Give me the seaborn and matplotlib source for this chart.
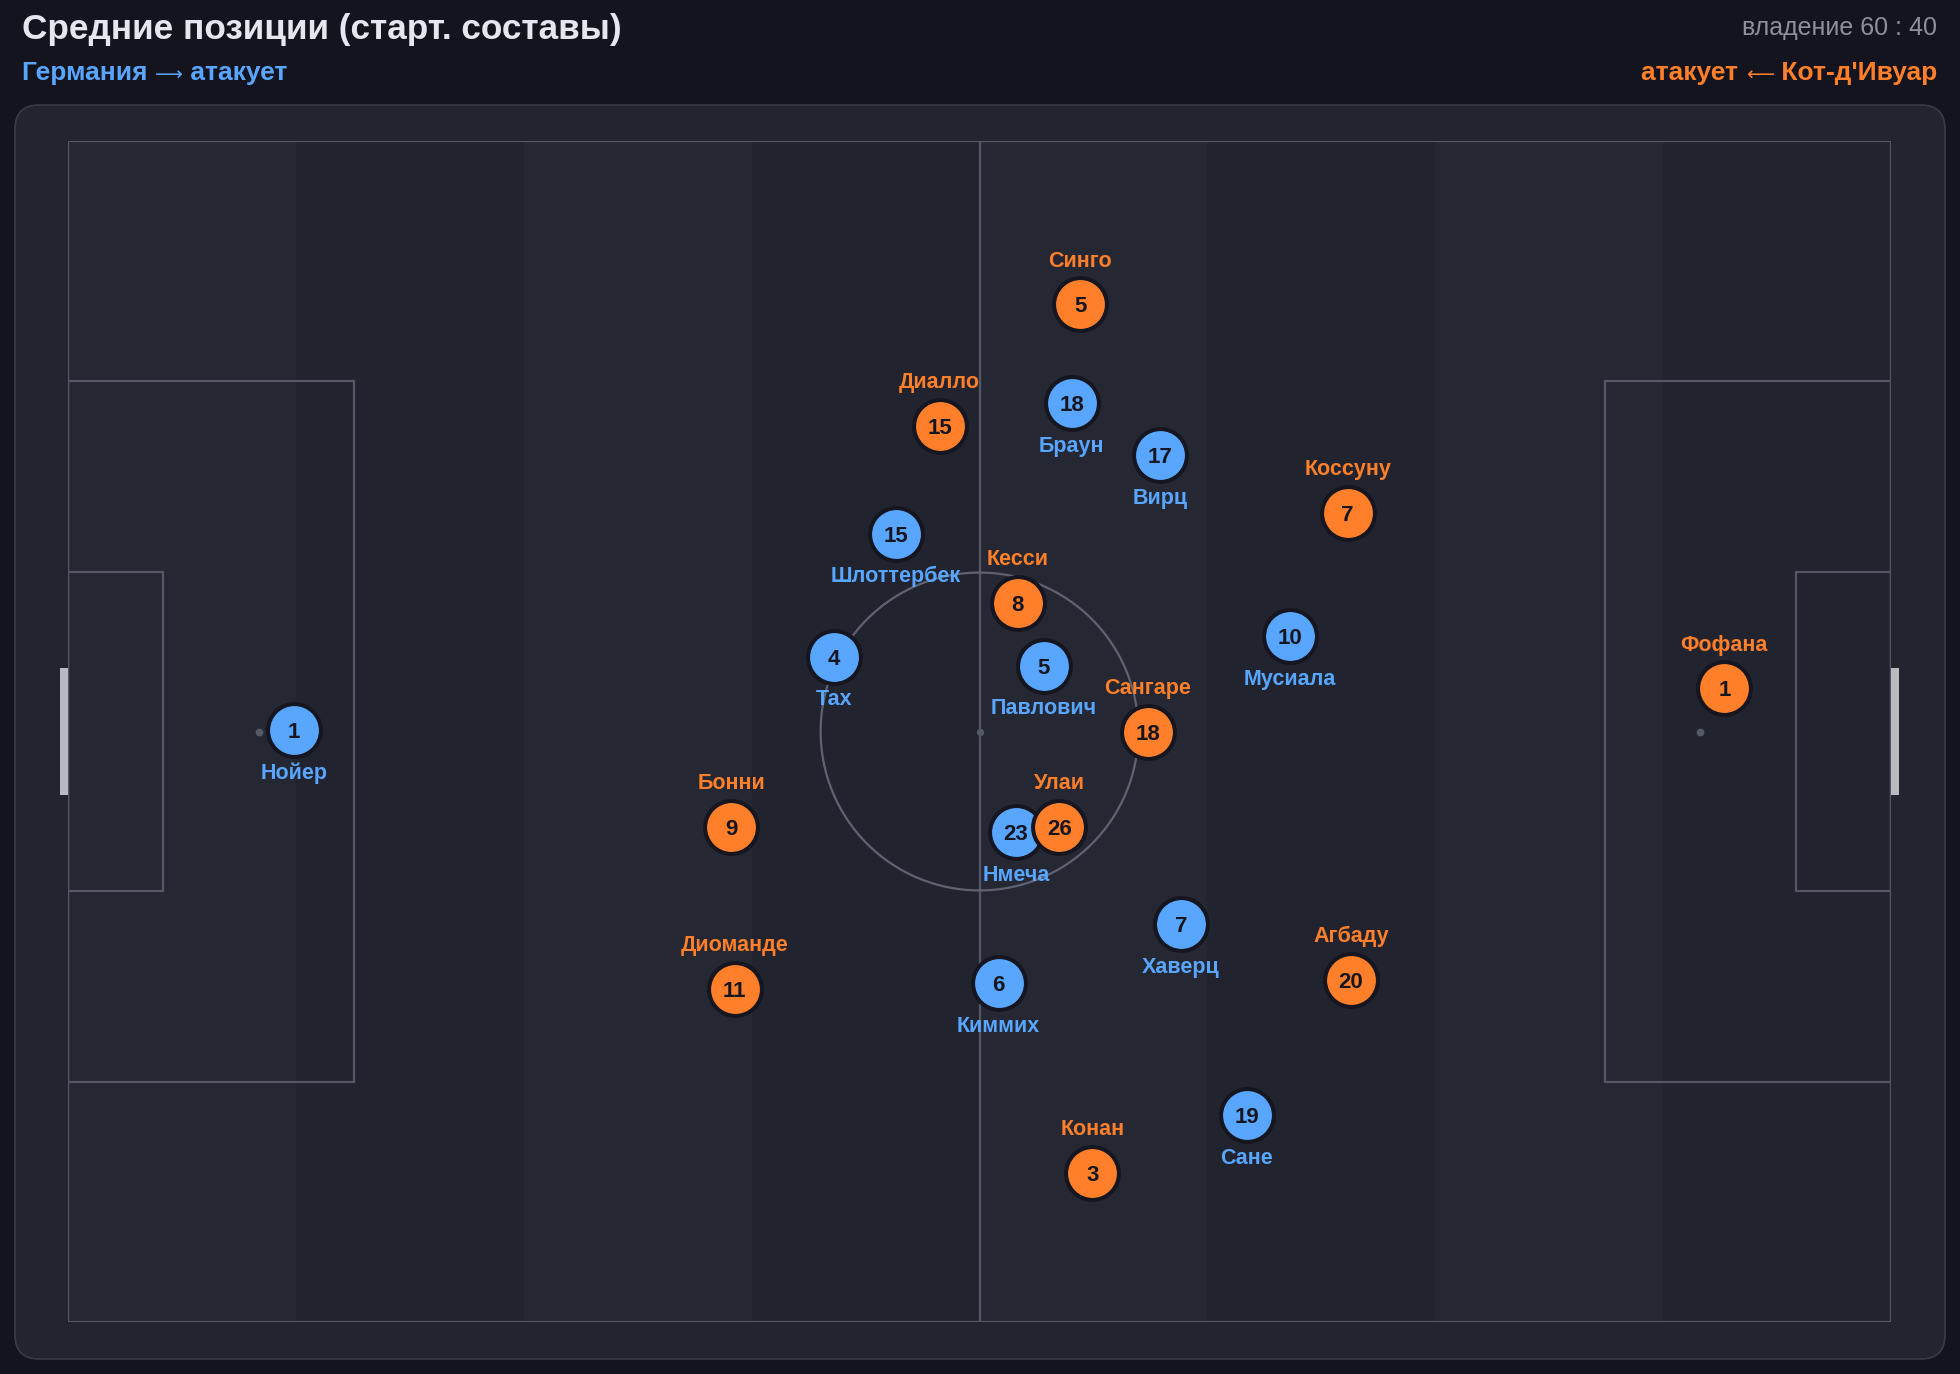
import matplotlib
matplotlib.use("Agg")
import matplotlib.pyplot as plt
import numpy as np
import pandas as pd
import seaborn as sns
from matplotlib.patches import FancyBboxPatch, Rectangle, Circle

# --- data (metres on a 105 x 68 pitch, y measured from the top touchline) ---
ger_numbers = [1, 15, 4, 18, 17, 5, 10, 23, 7, 6, 19]
ger_names = ["Нойер", "Шлоттербек", "Тах", "Браун", "Вирц", "Павлович",
             "Мусиала", "Нмеча", "Хаверц", "Киммих", "Сане"]
ger_x = [13.0, 47.7, 44.1, 57.8, 62.9, 56.2, 70.4, 54.6, 64.1, 53.6, 67.9]
ger_y = [33.9, 22.6, 29.7, 15.1, 18.1, 30.2, 28.5, 39.8, 45.1, 48.5, 56.1]

civ_numbers = [5, 15, 7, 8, 18, 1, 9, 26, 11, 20, 3]
civ_names = ["Синго", "Диалло", "Коссуну", "Кесси", "Сангаре", "Фофана",
             "Бонни", "Улаи", "Диоманде", "Агбаду", "Конан"]
civ_x = [58.3, 50.2, 73.7, 54.7, 62.2, 95.4, 38.2, 57.1, 38.4, 73.9, 59.0]
civ_y = [9.4, 16.4, 21.4, 26.6, 34.0, 31.5, 39.5, 39.5, 48.8, 48.3, 59.4]

teams = ["Германия", "Кот-д'Ивуар"]
possession = [60, 40]

BG = "#13141d"
PANEL = "#22242f"
STRIPE_A = "#252733"
STRIPE_B = "#21232e"
LINE = "#545765"
BLUE = "#58a6ff"
ORANGE = "#ff7f2a"
DARK = "#15161f"
FONT = ["Liberation Sans", "DejaVu Sans"]

sns.set_theme(style="white")
plt.rcParams["font.family"] = FONT

W, H = 1960, 1374
fig = plt.figure(figsize=(W / 100, H / 100), dpi=100, facecolor=BG)

# background axes in pixel units
bg = fig.add_axes([0, 0, 1, 1])
bg.set_xlim(0, W)
bg.set_ylim(H, 0)
bg.axis("off")
bg.add_patch(FancyBboxPatch((15, 105), 1930, 1254, boxstyle="round,pad=0,rounding_size=24",
                            fc=PANEL, ec="#393b48", lw=1.2))

bg.text(22, 30, "Средние позиции (старт. составы)", fontsize=25.3, fontweight="bold",
        color="#e6e7ee", va="center", ha="left")
bg.text(1937, 28, f"владение {possession[0]} : {possession[1]}", fontsize=18,
        color="#8d8f9c", va="center", ha="right")

# subtitles: words + a small arrow between them
sub_fs, arr_fs = 19, 14
t1 = bg.text(22, 80, f"{teams[0]} ", fontsize=sub_fs, fontweight="bold",
             color=BLUE, va="baseline", ha="left")
t2 = bg.annotate("\u27f6", xy=(1, 0), xycoords=t1, fontsize=arr_fs, color=BLUE,
                 va="bottom", ha="left", family="DejaVu Sans")
bg.annotate(" атакует", xy=(1, 0), xycoords=t2, fontsize=sub_fs, fontweight="bold",
            color=BLUE, va="bottom", ha="left")

r1 = bg.text(1937, 80, f" {teams[1]}", fontsize=sub_fs, fontweight="bold",
             color=ORANGE, va="baseline", ha="right")
r2 = bg.annotate("\u27f5", xy=(0, 0), xycoords=r1, fontsize=arr_fs, color=ORANGE,
                 va="bottom", ha="right", family="DejaVu Sans")
bg.annotate("атакует ", xy=(0, 0), xycoords=r2, fontsize=sub_fs, fontweight="bold",
            color=ORANGE, va="bottom", ha="right")

# pitch axes
px0, py0, px1, py1 = 68, 141, 1891, 1322
ax = fig.add_axes([px0 / W, 1 - py1 / H, (px1 - px0) / W, (py1 - py0) / H])
ax.set_xlim(0, 105)
ax.set_ylim(68, 0)
ax.axis("off")

for k in range(8):
    ax.axvspan(k * 105 / 8, (k + 1) * 105 / 8, color=STRIPE_A if k % 2 == 0 else STRIPE_B,
               lw=0, zorder=0)

lw = 1.6
ax.add_patch(Rectangle((0, 0), 105, 68, fc="none", ec=LINE, lw=lw, zorder=1))
ax.plot([52.5, 52.5], [0, 68], color=LINE, lw=lw, zorder=1)
ax.add_patch(Circle((52.5, 34), 9.15, fc="none", ec="#5f6270", lw=lw, zorder=1))
for side in (0, 1):
    x0 = 0 if side == 0 else 105 - 16.5
    ax.add_patch(Rectangle((x0, 34 - 20.16), 16.5, 40.32, fc="none", ec=LINE, lw=lw, zorder=1))
    x0 = 0 if side == 0 else 105 - 5.5
    ax.add_patch(Rectangle((x0, 34 - 9.16), 5.5, 18.32, fc="none", ec=LINE, lw=lw, zorder=1))
    gx = -0.45 if side == 0 else 105
    ax.add_patch(Rectangle((gx, 34 - 3.66), 0.45, 7.32, fc="#b9bac0", ec="none",
                           clip_on=False, zorder=1))
    ax.scatter([11 if side == 0 else 94], [34], s=32, color="#555866", lw=0, zorder=1)
ax.scatter([52.5], [34], s=28, color="#555866", lw=0, zorder=1)

df = pd.DataFrame({
    "x": ger_x + civ_x,
    "y": ger_y + civ_y,
    "num": ger_numbers + civ_numbers,
    "name": ger_names + civ_names,
    "team": [teams[0]] * len(ger_x) + [teams[1]] * len(civ_x),
})

for team, col, off in [(teams[0], BLUE, -31), (teams[1], ORANGE, 31)]:
    sub = df[df["team"] == team]
    sns.scatterplot(data=sub, x="x", y="y", color=col, s=1450, edgecolor=DARK,
                    linewidth=2.9, legend=False, ax=ax, zorder=5, clip_on=False)
    for _, r in sub.iterrows():
        ax.text(r["x"], r["y"], str(r["num"]), fontsize=16, fontweight="bold",
                color=DARK, ha="center", va="center_baseline", zorder=6)
        ax.annotate(r["name"], (r["x"], r["y"]), xytext=(0, off), textcoords="offset points",
                    fontsize=15.5, fontweight="bold", color=col, ha="center",
                    va="center", zorder=6)

ax.set_xlabel("")
ax.set_ylabel("")
ax.axis("off")

fig.savefig("out.png", dpi=100, facecolor=BG)
